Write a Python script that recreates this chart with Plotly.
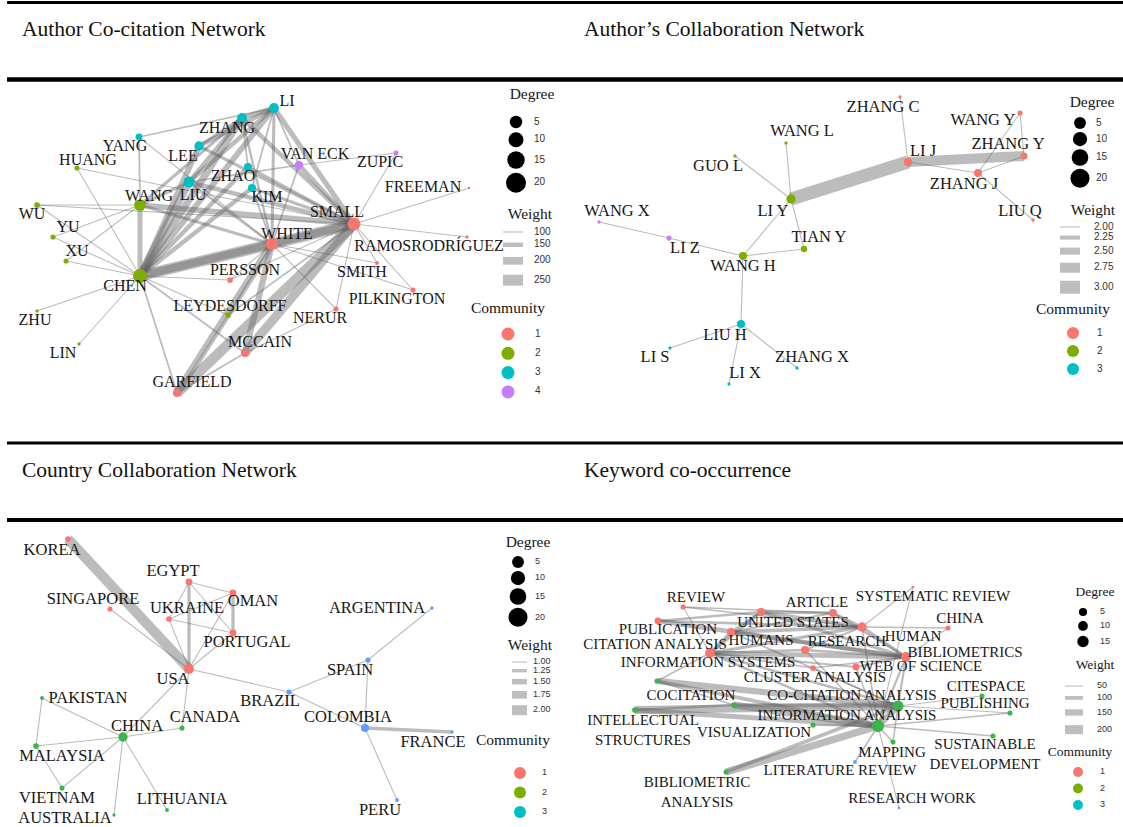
import plotly.graph_objects as go

W, H = 1123, 827

# ---------------- Author co-citation network ----------------
cocit_names = ["LI", "ZHANG", "YANG", "LEE", "ZHAO", "LIU", "KIM", "VAN ECK", "ZUPIC", "HUANG",
               "WANG", "WU", "YU", "XU", "CHEN", "ZHU", "LIN", "LEYDESDORFF", "PERSSON", "SMALL",
               "WHITE", "FREEMAN", "RAMOSRODRÍGUEZ", "SMITH", "PILKINGTON", "NERUR", "MCCAIN", "GARFIELD"]
cocit_x = [274, 242, 139, 199, 248, 189, 252, 299, 396, 77, 140, 37, 53, 66, 140, 37, 79, 228, 230, 354,
           272, 469, 467, 377, 413, 336, 245, 177]
cocit_y = [108, 118, 137, 146, 167, 182, 188, 165, 153, 168, 205, 205, 237, 261, 276, 311, 344, 315, 280, 224,
           244, 188, 237, 263, 290, 309, 353, 393]
cocit_degree = [14, 14, 9, 13, 11, 16, 11, 12, 6, 6, 17, 7, 6, 6, 21, 3, 3, 7, 7, 19, 18, 2, 3, 4, 6, 6, 11, 11]
cocit_comm = [3, 3, 3, 3, 3, 3, 3, 4, 4, 2, 2, 2, 2, 2, 2, 2, 2, 2, 1, 1, 1, 1, 1, 1, 1, 1, 1, 1]
cocit_edges = [
    ("CHEN", "WHITE", 250), ("WHITE", "SMALL", 250), ("CHEN", "SMALL", 200), ("GARFIELD", "SMALL", 240),
    ("GARFIELD", "WHITE", 200), ("MCCAIN", "SMALL", 220), ("MCCAIN", "WHITE", 180), ("CHEN", "WANG", 160),
    ("CHEN", "LIU", 200), ("CHEN", "ZHANG", 190), ("CHEN", "LI", 170), ("CHEN", "LEE", 170),
    ("CHEN", "ZHAO", 150), ("CHEN", "KIM", 150), ("WANG", "SMALL", 170), ("WANG", "LIU", 130),
    ("WANG", "WHITE", 130), ("WANG", "ZHANG", 130), ("LIU", "ZHANG", 150), ("LIU", "LI", 150),
    ("LEE", "LI", 150), ("ZHANG", "LI", 160), ("LEE", "ZHANG", 130), ("LI", "SMALL", 160),
    ("ZHANG", "SMALL", 150), ("KIM", "SMALL", 130), ("ZHAO", "SMALL", 130), ("LIU", "SMALL", 150),
    ("LEE", "SMALL", 130), ("LI", "WHITE", 130), ("ZHANG", "WHITE", 120), ("LIU", "WHITE", 120),
    ("KIM", "WHITE", 110), ("VAN ECK", "SMALL", 150), ("VAN ECK", "LI", 110), ("VAN ECK", "ZUPIC", 100),
    ("VAN ECK", "WHITE", 110), ("VAN ECK", "LIU", 110), ("YANG", "LI", 110), ("YANG", "WANG", 110),
    ("YANG", "WHITE", 100), ("HUANG", "CHEN", 100), ("HUANG", "SMALL", 100), ("WU", "WANG", 100),
    ("WU", "CHEN", 100), ("YU", "WANG", 100), ("YU", "CHEN", 100), ("XU", "CHEN", 100),
    ("XU", "WANG", 100), ("ZHU", "CHEN", 100), ("LIN", "CHEN", 100), ("CHEN", "PERSSON", 100),
    ("CHEN", "LEYDESDORFF", 100), ("CHEN", "GARFIELD", 110), ("CHEN", "MCCAIN", 110),
    ("WHITE", "PERSSON", 100), ("WHITE", "NERUR", 100), ("SMALL", "SMITH", 100),
    ("SMALL", "PILKINGTON", 100), ("SMALL", "NERUR", 100), ("SMALL", "RAMOSRODRÍGUEZ", 100),
    ("SMALL", "FREEMAN", 100), ("SMALL", "ZUPIC", 100), ("WHITE", "SMITH", 100),
    ("WHITE", "PILKINGTON", 100), ("LEYDESDORFF", "SMALL", 110), ("LEYDESDORFF", "WHITE", 110),
    ("GARFIELD", "MCCAIN", 110), ("GARFIELD", "LEYDESDORFF", 100), ("PERSSON", "SMALL", 100),
    ("MCCAIN", "NERUR", 100), ("LI", "KIM", 110), ("ZHANG", "ZHAO", 110), ("WU", "SMALL", 100),
]

# ---------------- Author collaboration network ----------------
collab_names = ["ZHANG C", "WANG Y", "ZHANG Y", "LI J", "ZHANG J", "LIU Q", "WANG L", "GUO L", "LI Y",
                "TIAN Y", "WANG H", "LI Z", "WANG X", "LIU H", "LI S", "LI X", "ZHANG X"]
collab_x = [900, 1020, 1024, 908, 978, 1033, 786, 735, 791, 804, 743, 669, 599, 741, 670, 729, 797]
collab_y = [97, 113, 156, 162, 173, 220, 143, 156, 199, 249, 256, 238, 222, 324, 348, 384, 368]
collab_degree = [3, 6, 9, 12, 11, 3, 3, 3, 13, 8, 11, 6, 3, 11, 3, 3, 3]
collab_comm = [1, 1, 1, 1, 1, 1, 2, 2, 2, 2, 2, 4, 4, 3, 3, 3, 3]
collab_edges = [
    ("LI Y", "LI J", 3.0), ("LI J", "ZHANG Y", 2.75), ("LI J", "ZHANG J", 2.0), ("ZHANG J", "ZHANG Y", 2.0),
    ("WANG Y", "ZHANG Y", 2.0), ("WANG Y", "ZHANG J", 2.0), ("LI J", "ZHANG C", 2.0), ("ZHANG J", "LIU Q", 2.0),
    ("LI Y", "WANG L", 2.0), ("LI Y", "GUO L", 2.0), ("LI Y", "TIAN Y", 2.0), ("LI Y", "WANG H", 2.0),
    ("WANG H", "TIAN Y", 2.0), ("WANG H", "LI Z", 2.0), ("LI Z", "WANG X", 2.0), ("WANG H", "LIU H", 2.0),
    ("LIU H", "LI S", 2.0), ("LIU H", "LI X", 2.0), ("LIU H", "ZHANG X", 2.0),
]

# ---------------- Country collaboration network ----------------
country_names = ["KOREA", "EGYPT", "OMAN", "SINGAPORE", "UKRAINE", "PORTUGAL", "USA", "ARGENTINA", "SPAIN",
                 "BRAZIL", "COLOMBIA", "FRANCE", "PERU", "PAKISTAN", "CHINA", "CANADA", "MALAYSIA",
                 "VIETNAM", "LITHUANIA", "AUSTRALIA"]
country_x = [68, 189, 233, 110, 169, 233, 189, 432, 368, 289, 365, 452, 397, 42, 123, 182, 36, 62, 167, 114]
country_y = [539, 582, 593, 609, 619, 633, 669, 608, 660, 692, 728, 732, 800, 698, 737, 728, 746, 788, 810, 815]
country_degree = [7, 9, 9, 6, 7, 9, 14, 3, 6, 6, 11, 3, 4, 4, 13, 6, 7, 6, 4, 3]
country_comm = [1, 1, 1, 1, 1, 1, 1, 3, 3, 3, 3, 3, 3, 2, 2, 2, 2, 2, 2, 2]
country_edges = [
    ("KOREA", "USA", 2.0), ("SINGAPORE", "USA", 1.0), ("EGYPT", "USA", 1.25), ("EGYPT", "OMAN", 1.0),
    ("EGYPT", "UKRAINE", 1.0), ("EGYPT", "PORTUGAL", 1.0), ("OMAN", "PORTUGAL", 1.25), ("OMAN", "UKRAINE", 1.0),
    ("UKRAINE", "PORTUGAL", 1.0), ("UKRAINE", "USA", 1.0), ("PORTUGAL", "USA", 1.0), ("OMAN", "USA", 1.0),
    ("USA", "BRAZIL", 1.0), ("USA", "CHINA", 1.0), ("USA", "CANADA", 1.0), ("BRAZIL", "SPAIN", 1.0),
    ("BRAZIL", "COLOMBIA", 1.0), ("SPAIN", "ARGENTINA", 1.0), ("SPAIN", "COLOMBIA", 1.0),
    ("COLOMBIA", "FRANCE", 1.25), ("COLOMBIA", "PERU", 1.0), ("CHINA", "PAKISTAN", 1.0),
    ("CHINA", "MALAYSIA", 1.0), ("CHINA", "VIETNAM", 1.0), ("CHINA", "LITHUANIA", 1.0),
    ("CHINA", "AUSTRALIA", 1.0), ("CHINA", "CANADA", 1.0), ("PAKISTAN", "MALAYSIA", 1.0),
    ("MALAYSIA", "VIETNAM", 1.0),
]

# ---------------- Keyword co-occurrence ----------------
kw_names = ["REVIEW", "ARTICLE", "SYSTEMATIC REVIEW", "UNITED STATES", "PUBLICATION", "HUMANS", "HUMAN",
            "CHINA", "CITATION ANALYSIS", "RESEARCH", "BIBLIOMETRICS", "CLUSTER ANALYSIS", "WEB OF SCIENCE",
            "INFORMATION SYSTEMS", "INTELLECTUAL<br>STRUCTURES", "COCITATION", "VISUALIZATION",
            "CO-CITATION ANALYSIS", "INFORMATION ANALYSIS", "CITESPACE", "PUBLISHING",
            "SUSTAINABLE<br>DEVELOPMENT", "MAPPING", "BIBLIOMETRIC<br>ANALYSIS", "LITERATURE REVIEW",
            "RESEARCH WORK"]
kw_x = [683, 833, 913, 761, 658, 731, 862, 948, 710, 805, 906, 813, 856, 657, 635, 734, 813, 898, 878, 982,
        1010, 993, 893, 726, 855, 899]
kw_y = [607, 613, 587, 612, 621, 632, 627, 628, 653, 650, 657, 668, 667, 681, 710, 705, 725, 706, 726, 696,
        713, 736, 742, 772, 762, 808]
kw_degree = [6, 11, 2, 11, 9, 11, 13, 6, 14, 11, 14, 7, 9, 6, 7, 7, 6, 16, 18, 6, 6, 6, 6, 6, 4, 2]
kw_comm = [1, 1, 1, 1, 1, 1, 1, 1, 1, 1, 1, 1, 1, 2, 2, 2, 2, 2, 2, 2, 2, 2, 2, 2, 3, 3]
kw_edges = [
    ("PUBLICATION", "BIBLIOMETRICS", 120), ("PUBLICATION", "UNITED STATES", 80), ("PUBLICATION", "HUMAN", 80),
    ("UNITED STATES", "ARTICLE", 90), ("UNITED STATES", "HUMAN", 100), ("UNITED STATES", "BIBLIOMETRICS", 90),
    ("HUMANS", "BIBLIOMETRICS", 100), ("HUMANS", "HUMAN", 100), ("HUMANS", "ARTICLE", 70),
    ("CITATION ANALYSIS", "BIBLIOMETRICS", 120), ("CITATION ANALYSIS", "HUMAN", 90),
    ("CITATION ANALYSIS", "UNITED STATES", 90), ("CITATION ANALYSIS", "HUMANS", 90),
    ("CITATION ANALYSIS", "RESEARCH", 80), ("CITATION ANALYSIS", "WEB OF SCIENCE", 70),
    ("RESEARCH", "BIBLIOMETRICS", 80), ("RESEARCH", "HUMAN", 70), ("HUMAN", "BIBLIOMETRICS", 90),
    ("HUMAN", "CHINA", 60), ("HUMAN", "SYSTEMATIC REVIEW", 50), ("HUMAN", "ARTICLE", 80),
    ("REVIEW", "HUMAN", 60), ("REVIEW", "ARTICLE", 60), ("REVIEW", "CITATION ANALYSIS", 50),
    ("WEB OF SCIENCE", "BIBLIOMETRICS", 70), ("CLUSTER ANALYSIS", "BIBLIOMETRICS", 60),
    ("CLUSTER ANALYSIS", "CITATION ANALYSIS", 60), ("CHINA", "BIBLIOMETRICS", 50),
    ("ARTICLE", "BIBLIOMETRICS", 70), ("SYSTEMATIC REVIEW", "INFORMATION ANALYSIS", 50),
    ("BIBLIOMETRICS", "INFORMATION ANALYSIS", 70), ("BIBLIOMETRICS", "CO-CITATION ANALYSIS", 70),
    ("HUMAN", "INFORMATION ANALYSIS", 60), ("INFORMATION SYSTEMS", "CITATION ANALYSIS", 60),
    ("INFORMATION SYSTEMS", "CO-CITATION ANALYSIS", 150), ("INFORMATION SYSTEMS", "INFORMATION ANALYSIS", 100),
    ("INTELLECTUAL<br>STRUCTURES", "CO-CITATION ANALYSIS", 180),
    ("INTELLECTUAL<br>STRUCTURES", "INFORMATION ANALYSIS", 120), ("INTELLECTUAL<br>STRUCTURES", "COCITATION", 80),
    ("COCITATION", "INFORMATION ANALYSIS", 160), ("COCITATION", "CO-CITATION ANALYSIS", 100),
    ("VISUALIZATION", "INFORMATION ANALYSIS", 70), ("CO-CITATION ANALYSIS", "INFORMATION ANALYSIS", 150),
    ("CO-CITATION ANALYSIS", "CITESPACE", 50), ("CO-CITATION ANALYSIS", "PUBLISHING", 50),
    ("INFORMATION ANALYSIS", "PUBLISHING", 60), ("INFORMATION ANALYSIS", "SUSTAINABLE<br>DEVELOPMENT", 60),
    ("INFORMATION ANALYSIS", "MAPPING", 60), ("CO-CITATION ANALYSIS", "MAPPING", 60),
    ("BIBLIOMETRIC<br>ANALYSIS", "INFORMATION ANALYSIS", 170), ("BIBLIOMETRIC<br>ANALYSIS", "CO-CITATION ANALYSIS", 100),
    ("INFORMATION ANALYSIS", "LITERATURE REVIEW", 60), ("INFORMATION ANALYSIS", "RESEARCH WORK", 50),
    ("CITATION ANALYSIS", "INFORMATION ANALYSIS", 80), ("RESEARCH", "INFORMATION ANALYSIS", 60),
    ("WEB OF SCIENCE", "INFORMATION ANALYSIS", 60), ("CLUSTER ANALYSIS", "CO-CITATION ANALYSIS", 60),
    ("CITATION ANALYSIS", "CO-CITATION ANALYSIS", 80), ("HUMANS", "CO-CITATION ANALYSIS", 60),
    ("INFORMATION SYSTEMS", "COCITATION", 60), ("UNITED STATES", "HUMANS", 80),
]

panel_titles = ["Author Co-citation Network", "Author\u2019s Collaboration Network",
                "Country Collaboration Network", "Keyword co-occurrence"]
degree_levels = [5, 10, 15, 20]
kw_degree_levels = [5, 10, 15]
cocit_weight_levels = [100, 150, 200, 250]
collab_weight_levels = [2.00, 2.25, 2.50, 2.75, 3.00]
country_weight_levels = [1.00, 1.25, 1.50, 1.75, 2.00]
kw_weight_levels = [50, 100, 150, 200]

# ---------------- styling ----------------
SERIF = "Liberation Serif, Times New Roman, serif"
SANS = "Liberation Sans, Arial, sans-serif"
RED, GREEN, CYAN, PURPLE = "#F8766D", "#7CAE00", "#00BFC4", "#C77CFF"
GREEN2, BLUE2 = "#3DB44A", "#619CFF"
EDGE = "rgba(95,95,95,0.42)"
LABEL = "#161616"

# panel boxes in page pixels: x0, x1, y0, y1
boxes = [(0, 561, 83, 442), (561, 1123, 83, 442), (0, 561, 522, 827), (561, 1123, 522, 827)]

fig = go.Figure()


def node_size(d):
    return 1.5 + 0.6 * d


def edge_width(w, wr, lr):
    return lr[0] + (w - wr[0]) / (wr[1] - wr[0]) * (lr[1] - lr[0])


def axes(i):
    return ("x" if i == 0 else f"x{i + 1}"), ("y" if i == 0 else f"y{i + 1}")


def add_network(i, names, xs, ys, degs, comms, edges, palette, offsets, wr, lr, fsize):
    xa, ya = axes(i)
    pos = {n: (x, y) for n, x, y in zip(names, xs, ys)}
    for a, b, w in sorted(edges, key=lambda e: -e[2]):
        fig.add_trace(go.Scatter(
            x=[pos[a][0], pos[b][0]], y=[pos[a][1], pos[b][1]], mode="lines",
            line=dict(color=EDGE, width=edge_width(w, wr, lr)),
            xaxis=xa, yaxis=ya, hoverinfo="skip", showlegend=False, cliponaxis=False))
    fig.add_trace(go.Scatter(
        x=xs, y=ys, mode="markers",
        marker=dict(size=[node_size(d) for d in degs], color=[palette[c] for c in comms],
                    opacity=1, line=dict(width=0)),
        xaxis=xa, yaxis=ya, hoverinfo="skip", showlegend=False, cliponaxis=False))
    fig.add_trace(go.Scatter(
        x=[x + offsets[n][0] for n, x in zip(names, xs)],
        y=[y + offsets[n][1] for n, y in zip(names, ys)],
        mode="text", text=names, textposition="middle center",
        textfont=dict(family=SERIF, size=fsize, color=LABEL),
        xaxis=xa, yaxis=ya, hoverinfo="skip", showlegend=False, cliponaxis=False))


def add_legend(i, cfg):
    xa, ya = axes(i)
    ts, ns = cfg["title_size"], cfg["num_size"]

    def txt(x, y, t, size, fam, pos="middle center", color=LABEL):
        fig.add_trace(go.Scatter(x=x, y=y, mode="text", text=t, textposition=pos,
                                 textfont=dict(family=fam, size=size, color=color),
                                 xaxis=xa, yaxis=ya, hoverinfo="skip", showlegend=False, cliponaxis=False))

    # Degree
    txt([cfg["deg_title"][0]], [cfg["deg_title"][1]], ["Degree"], ts, SERIF)
    sizes = [cfg["deg_scale"] * (10 + 0.5 * lv) for lv in cfg["deg_levels"]]
    ys = [cfg["deg_y0"]]
    for k in range(1, len(sizes)):
        ys.append(ys[-1] + (sizes[k - 1] + sizes[k]) / 2 + cfg["deg_gap"])
    fig.add_trace(go.Scatter(x=[cfg["deg_x"]] * len(ys), y=ys, mode="markers",
                             marker=dict(size=sizes, color="#000000", opacity=1, line=dict(width=0)),
                             xaxis=xa, yaxis=ya, hoverinfo="skip", showlegend=False, cliponaxis=False))
    txt([cfg["num_x"]] * len(ys), ys, [str(v) for v in cfg["deg_levels"]], ns, SANS, "middle right", "#333")

    # Weight
    txt([cfg["w_title"][0]], [cfg["w_title"][1]], ["Weight"], ts, SERIF)
    widths = [edge_width(v, cfg["wr"], cfg["lr"]) for v in cfg["w_levels"]]
    ys = [cfg["w_y0"]]
    for k in range(1, len(widths)):
        ys.append(ys[-1] + (widths[k - 1] + widths[k]) / 2 + cfg["w_gap"])
    for y, lw in zip(ys, widths):
        fig.add_trace(go.Scatter(x=list(cfg["w_x"]), y=[y, y], mode="lines",
                                 line=dict(color="rgba(150,150,150,0.62)", width=lw),
                                 xaxis=xa, yaxis=ya, hoverinfo="skip", showlegend=False, cliponaxis=False))
    txt([cfg["w_num_x"]] * len(ys), ys, [cfg["w_fmt"].format(v) for v in cfg["w_levels"]], ns, SANS,
        "middle right", "#333")

    # Community
    txt([cfg["c_title"][0]], [cfg["c_title"][1]], ["Community"], ts, SERIF)
    levels = cfg["c_levels"]
    ys = [cfg["c_y0"] + k * cfg["c_step"] for k in range(len(levels))]
    fig.add_trace(go.Scatter(x=[cfg["c_x"]] * len(ys), y=ys, mode="markers",
                             marker=dict(size=cfg["c_size"], color=[cfg["c_pal"][c] for c in levels],
                                         opacity=1, line=dict(width=0)),
                             xaxis=xa, yaxis=ya, hoverinfo="skip", showlegend=False, cliponaxis=False))
    txt([cfg["c_num_x"]] * len(ys), ys, [str(c) for c in levels], ns, SANS, "middle right", "#333")


legend_pal = {1: RED, 2: GREEN, 3: CYAN, 4: PURPLE}

# ---- panel 1
cocit_wr, cocit_lr = (100, 250), (1.1, 11)
cocit_off = {
    "LI": (13, -6), "ZHANG": (-15, 11), "YANG": (-14, 10), "LEE": (-16, 11), "ZHAO": (-15, 10),
    "LIU": (4, 14), "KIM": (15, 10), "VAN ECK": (16, -10), "ZUPIC": (-16, 10), "HUANG": (11, -7),
    "WANG": (9, -8), "WU": (-5, 10), "YU": (15, -9), "XU": (11, -9), "CHEN": (-15, 11), "ZHU": (-2, 10),
    "LIN": (-16, 10), "LEYDESDORFF": (2, -8), "PERSSON": (15, -9), "SMALL": (-17, -11), "WHITE": (15, -9),
    "FREEMAN": (-46, 0), "RAMOSRODRÍGUEZ": (-38, 10), "SMITH": (-15, 10), "PILKINGTON": (-16, 10),
    "NERUR": (-16, 10), "MCCAIN": (15, -10), "GARFIELD": (15, -10),
}
add_network(0, cocit_names, cocit_x, cocit_y, cocit_degree, cocit_comm, cocit_edges, legend_pal,
            cocit_off, cocit_wr, cocit_lr, 16)
add_legend(0, dict(title_size=15.5, num_size=10,
                   deg_levels=degree_levels, deg_title=(532, 95), deg_x=516, deg_y0=122, deg_gap=4,
                   deg_scale=1.0, num_x=534,
                   w_levels=cocit_weight_levels, w_fmt="{:.0f}", wr=cocit_wr, lr=cocit_lr,
                   w_title=(530, 215), w_x=(503, 523), w_y0=232, w_gap=10, w_num_x=534,
                   c_levels=[1, 2, 3, 4], c_pal=legend_pal, c_title=(508, 309), c_x=508, c_y0=334,
                   c_step=19.3, c_size=13, c_num_x=535))

# ---- panel 2
collab_wr, collab_lr = (2.0, 3.0), (1.1, 13)
collab_off = {
    "ZHANG C": (-17, 11), "WANG Y": (-37, 8), "ZHANG Y": (-16, -11), "LI J": (15, -10), "ZHANG J": (-14, 12),
    "LIU Q": (-13, -8), "WANG L": (16, -11), "GUO L": (-17, 11), "LI Y": (-18, 13), "TIAN Y": (15, -11),
    "WANG H": (0, 11), "LI Z": (16, 11), "WANG X": (18, -10), "LIU H": (-16, 12), "LI S": (-15, 10),
    "LI X": (16, -10), "ZHANG X": (15, -10),
}
add_network(1, collab_names, collab_x, collab_y, collab_degree, collab_comm, collab_edges, legend_pal,
            collab_off, collab_wr, collab_lr, 16.5)
add_legend(1, dict(title_size=15.5, num_size=10,
                   deg_levels=degree_levels, deg_title=(1092, 103), deg_x=1080, deg_y0=123, deg_gap=3,
                   deg_scale=0.95, num_x=1096,
                   w_levels=collab_weight_levels, w_fmt="{:.2f}", wr=collab_wr, lr=collab_lr,
                   w_title=(1093, 211), w_x=(1060, 1080), w_y0=227, w_gap=8, w_num_x=1094,
                   c_levels=[1, 2, 3], c_pal=legend_pal, c_title=(1073, 310), c_x=1073, c_y0=333,
                   c_step=18, c_size=12, c_num_x=1097))

# ---- panel 3
country_pal = {1: RED, 2: GREEN2, 3: BLUE2}
country_wr, country_lr = (1.0, 2.0), (1.1, 10)
country_off = {
    "KOREA": (-16, 12), "EGYPT": (-16, -10), "OMAN": (20, 9), "SINGAPORE": (-17, -9), "UKRAINE": (18, -10),
    "PORTUGAL": (14, 10), "USA": (-16, 11), "ARGENTINA": (-55, 1), "SPAIN": (-18, 11), "BRAZIL": (-19, 10),
    "COLOMBIA": (-17, -10), "FRANCE": (-19, 11), "PERU": (-17, 11), "PAKISTAN": (46, 1), "CHINA": (14, -10),
    "CANADA": (23, -10), "MALAYSIA": (26, 11), "VIETNAM": (-5, 11), "LITHUANIA": (15, -10),
    "AUSTRALIA": (-49, 4),
}
add_network(2, country_names, country_x, country_y, country_degree, country_comm, country_edges, country_pal,
            country_off, country_wr, country_lr, 16.5)
add_legend(2, dict(title_size=15.5, num_size=9,
                   deg_levels=degree_levels, deg_title=(528, 543), deg_x=518, deg_y0=562, deg_gap=3,
                   deg_scale=0.95, num_x=535,
                   w_levels=country_weight_levels, w_fmt="{:.2f}", wr=country_wr, lr=country_lr,
                   w_title=(530, 646), w_x=(512, 527), w_y0=662, w_gap=6.5, w_num_x=533,
                   c_levels=[1, 2, 3], c_pal=legend_pal, c_title=(513, 741), c_x=520, c_y0=773,
                   c_step=19.5, c_size=12, c_num_x=542))

# ---- panel 4
kw_wr, kw_lr = (50, 200), (1.1, 9)
kw_off = {
    "REVIEW": (13, -9), "ARTICLE": (-16, -10), "SYSTEMATIC REVIEW": (20, 10), "UNITED STATES": (32, 11),
    "PUBLICATION": (10, 9), "HUMANS": (30, 9), "HUMAN": (51, 10), "CHINA": (12, -9),
    "CITATION ANALYSIS": (-55, -8), "RESEARCH": (42, -8), "BIBLIOMETRICS": (59, -4),
    "CLUSTER ANALYSIS": (2, 10), "WEB OF SCIENCE": (65, 0), "INFORMATION SYSTEMS": (51, -18),
    "INTELLECTUAL<br>STRUCTURES": (8, 21), "COCITATION": (-43, -9), "VISUALIZATION": (-59, 8),
    "CO-CITATION ANALYSIS": (-46, -10), "INFORMATION ANALYSIS": (-31, -10), "CITESPACE": (4, -9),
    "PUBLISHING": (-25, -9), "SUSTAINABLE<br>DEVELOPMENT": (-8, 19), "MAPPING": (-1, 11),
    "BIBLIOMETRIC<br>ANALYSIS": (-29, 21), "LITERATURE REVIEW": (-15, 9), "RESEARCH WORK": (13, -9),
}
add_network(3, kw_names, kw_x, kw_y, kw_degree, kw_comm, kw_edges, country_pal,
            kw_off, kw_wr, kw_lr, 15)
add_legend(3, dict(title_size=13.5, num_size=9,
                   deg_levels=kw_degree_levels, deg_title=(1095, 593), deg_x=1083, deg_y0=612, deg_gap=5,
                   deg_scale=0.65, num_x=1100,
                   w_levels=kw_weight_levels, w_fmt="{:.0f}", wr=kw_wr, lr=kw_lr,
                   w_title=(1095, 666), w_x=(1065, 1083), w_y0=686, w_gap=9.5, w_num_x=1097,
                   c_levels=[1, 2, 3], c_pal=legend_pal, c_title=(1080, 753), c_x=1078, c_y0=772,
                   c_step=16.5, c_size=10, c_num_x=1100))

# ---- axes for the four panels (units = page pixels)
layout_axes = {}
for i, (x0, x1, y0, y1) in enumerate(boxes):
    sfx = "" if i == 0 else str(i + 1)
    layout_axes["xaxis" + sfx] = dict(domain=[x0 / W, x1 / W], range=[x0, x1], visible=False, fixedrange=True,
                                      anchor="y" + sfx)
    layout_axes["yaxis" + sfx] = dict(domain=[1 - y1 / H, 1 - y0 / H], range=[y1, y0], visible=False,
                                      fixedrange=True, anchor="x" + sfx)

# horizontal rules and panel titles
rules = [(2.5, 3), (79.5, 4.5), (443, 3), (520, 4)]
shapes = [dict(type="line", xref="paper", yref="paper", x0=7 / W, x1=1, y0=1 - y / H, y1=1 - y / H,
               line=dict(color="black", width=lw)) for y, lw in rules]
title_pos = [(20, 29), (582, 29), (20, 470), (582, 470)]
annotations = [dict(text=t, x=px / W, y=1 - py / H, xref="paper", yref="paper", xanchor="left", yanchor="middle",
                    showarrow=False, font=dict(family=SERIF, size=21.5, color="#111"))
               for t, (px, py) in zip(panel_titles, title_pos)]

fig.update_layout(width=W, height=H, margin=dict(l=0, r=0, t=0, b=0), paper_bgcolor="white",
                  plot_bgcolor="white", showlegend=False, shapes=shapes, annotations=annotations,
                  **layout_axes)

# the page's default body margin would shift the figure; remove it
fig.write_html("out.html", config={"displayModeBar": False},
               post_script="document.body.style.margin='0px'; document.body.style.overflow='hidden';")
